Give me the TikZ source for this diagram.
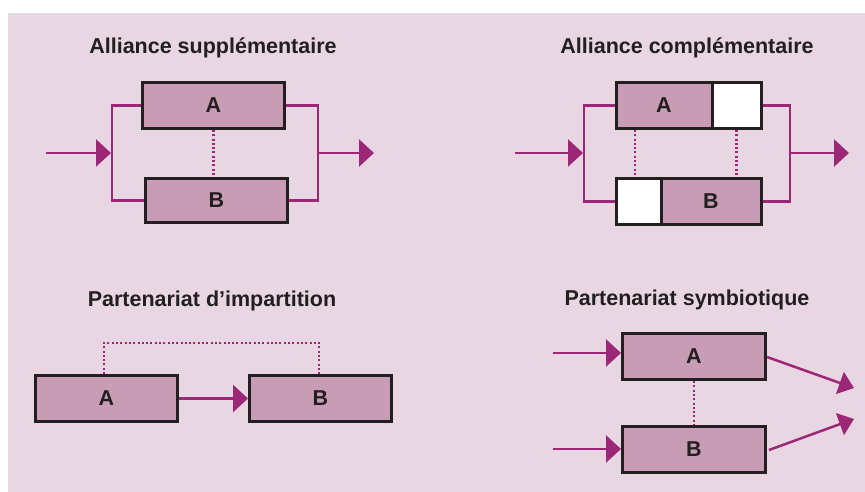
\documentclass[tikz,border=0pt]{standalone}
\usepackage{fontspec}
\setmainfont{Liberation Sans}
\usetikzlibrary{arrows.meta}
\definecolor{bgc}{HTML}{E8D7E2}
\definecolor{boxc}{HTML}{C89CB5}
\definecolor{magc}{HTML}{9C2777}
\definecolor{inkc}{HTML}{231F20}
\tikzset{
  boxA/.style={draw=inkc, line width=3pt, fill=boxc, inner sep=0pt, text=inkc,
    font=\fontsize{21.5}{25}\selectfont\bfseries},
  wbox/.style={draw=inkc, line width=3pt, fill=white, inner sep=0pt},
  title/.style={text=inkc, font=\fontsize{21.5}{25}\selectfont\bfseries},
  link/.style={draw=magc, line width=2.5pt},
  arr/.style={draw=magc, line width=2.5pt, -{Triangle[length=15pt,width=27pt]}},
  sarr/.style={draw=magc, line width=2.5pt, -{Triangle[length=15pt,width=23pt]}},
  dots/.style={draw=magc, line width=2.3pt, dash pattern=on 2pt off 2.3pt},
}
\begin{document}
\begin{tikzpicture}[x=1pt,y=-1pt]
\useasboundingbox (0,0) rectangle (865,492);
\fill[bgc] (8,13) rectangle (865,492);

% ---------- Alliance supplementaire ----------
\node[title] (t1) at (213,48) {Alliance supplémentaire};
\node[boxA, minimum width=142pt, minimum height=46pt] (A1) at (213.5,105.5) {A};
\node[boxA, minimum width=142pt, minimum height=44pt] (B1) at (216.5,200.5) {B};
\coordinate (lb1) at (112,153);
\coordinate (rb1) at (318,153);
\coordinate (in1) at (46,153);
\coordinate (out1) at (374,153);
\draw[link] (A1.west) -- (112,105.5) |- (B1.west);
\draw[link] (A1.east) -- (318,105.5) |- (B1.east);
\draw[arr] (in1) -- ([xshift=-1pt]lb1);
\draw[arr] (rb1) -- (out1);
\draw[dots] (A1.south) -- (A1.south |- B1.north);

% ---------- Alliance complementaire ----------
\node[title] (t2) at (687,48) {Alliance complémentaire};
\node[boxA, minimum width=96pt, minimum height=46pt] (A2) at (664,105.5) {A};
\node[wbox, minimum width=49pt, minimum height=46pt] (A2w) at (736.5,105.5) {};
\node[wbox, minimum width=45pt, minimum height=46pt] (B2w) at (638.5,201.5) {};
\node[boxA, minimum width=100pt, minimum height=46pt] (B2) at (711,201.5) {B};
\coordinate (lb2) at (584,153);
\coordinate (rb2) at (790,153);
\coordinate (in2) at (515,153);
\coordinate (out2) at (849,153);
\draw[link] (A2.west) -- (584,105.5) |- (B2w.west);
\draw[link] (A2w.east) -- (790,105.5) |- (B2.east);
\draw[arr] (in2) -- ([xshift=-1pt]lb2);
\draw[arr] (rb2) -- (out2);
\draw[dots] ([xshift=-29pt]A2.south) -- ([xshift=-29pt]A2.south |- B2w.north);
\draw[dots] (A2w.south) -- (A2w.south |- B2.north);

% ---------- Partenariat d'impartition ----------
\node[title] (t3) at (212,301) {Partenariat d’impartition};
\node[boxA, minimum width=142pt, minimum height=46pt] (A3) at (106.5,398.5) {A};
\node[boxA, minimum width=142pt, minimum height=46pt] (B3) at (320.5,398.5) {B};
\draw[arr] (A3.east) -- (B3.west);
\draw[dots] ([xshift=-2.5pt]A3.north) -- ++(0,-31) -| ([xshift=-1.5pt]B3.north);

% ---------- Partenariat symbiotique ----------
\node[title] (t4) at (687,300) {Partenariat symbiotique};
\node[boxA, minimum width=143pt, minimum height=46pt] (A4) at (694,356.5) {A};
\node[boxA, minimum width=143pt, minimum height=46pt] (B4) at (694,449.5) {B};
\coordinate (ia4) at (553,353);
\coordinate (ib4) at (553,449);
\coordinate (oa4) at (854,388);
\coordinate (ob4) at (854,419);
\draw[arr] (ia4) -- (A4.west |- ia4);
\draw[arr] (ib4) -- (B4.west |- ib4);
\draw[sarr] ([yshift=-0.5pt]A4.east) -- (oa4);
\draw[sarr] ([xshift=2pt,yshift=-0.5pt]B4.east) -- (ob4);
\draw[dots] (A4.south) -- (B4.north);
\end{tikzpicture}
\end{document}
